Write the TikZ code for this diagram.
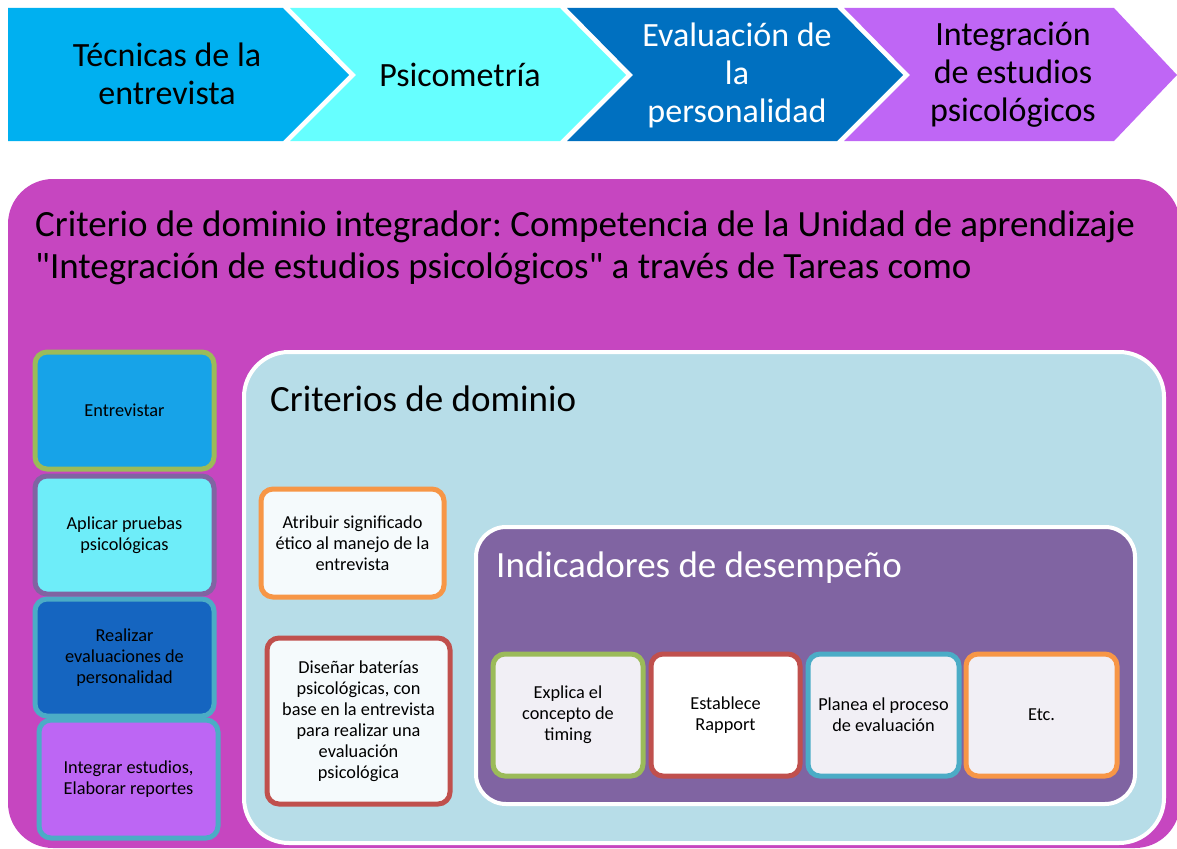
\documentclass[tikz,border=0pt]{standalone}
\usepackage{fontspec}
\setmainfont{Carlito}
\frenchspacing
\font\plainquote="Carlito" at 37pt
\newcommand{\sq}{{\plainquote\char34}}
\definecolor{chevA}{HTML}{00B0F0}
\definecolor{chevB}{HTML}{66FFFF}
\definecolor{chevC}{HTML}{0070C0}
\definecolor{chevD}{HTML}{BF66F5}
\definecolor{magbg}{HTML}{C646C0}
\definecolor{lblue}{HTML}{B7DDE8}
\definecolor{purp}{HTML}{8064A2}
\definecolor{bxgreen}{HTML}{9BBB59}
\definecolor{bxred}{HTML}{C0504D}
\definecolor{bxteal}{HTML}{4BACC6}
\definecolor{bxorange}{HTML}{F79646}
\definecolor{fillA}{HTML}{17A3E8}
\definecolor{fillB}{HTML}{6EEDF9}
\definecolor{fillC}{HTML}{1565C0}
\definecolor{fillD}{HTML}{BD66F4}
\definecolor{paleA}{HTML}{F5FAFC}
\definecolor{paleB}{HTML}{F1EFF5}
\begin{document}
\begin{tikzpicture}[x=1pt,y=-1pt,
  chevtext/.style={align=center,inner sep=0pt,font=\fontsize{34}{38}\selectfont},
  bigtitle/.style={anchor=west,align=left,inner sep=0pt,font=\fontsize{37}{42}\selectfont},
  smallbox/.style={rectangle,rounded corners=12pt,line width=5pt,align=center,inner sep=2pt,
     font=\fontsize{18.3}{21}\selectfont,text=black},
  panel/.style={draw=white,line width=4pt}
]
\useasboundingbox (0,0) rectangle (1177,848);
% chevrons
\fill[chevA] (8,8) -- (283,8) -- (349,75) -- (283,141) -- (8,141) -- cycle;
\fill[chevB] (290,8) -- (560,8) -- (626,75) -- (560,141) -- (290,141) -- (356,75) -- cycle;
\fill[chevC] (567,8) -- (837,8) -- (903,75) -- (837,141) -- (567,141) -- (633,75) -- cycle;
\fill[chevD] (844,8) -- (1114,8) -- (1177,75) -- (1114,141) -- (844,141) -- (910,75) -- cycle;
\node[chevtext] (c1) at (167,74) {Técnicas de la\\entrevista};
\node[chevtext] (c2) at (460,75) {Psicometría};
\node[chevtext,text=white] (c3) at (737,75) {Evaluación de\\la\\personalidad};
\node[chevtext] (c4) at (1013,75) {Integración\\de estudios\\psicológicos};
% big magenta panel
\fill[magbg,rounded corners=45pt] (8,179) rectangle (1180,848);
\node[bigtitle] (maintitle) at (35,248) {Criterio de dominio integrador: Competencia de la Unidad de aprendizaje\\\sq Integración de estudios psicológicos\sq{} a través de Tareas como};
% left column
\node[smallbox,draw=bxgreen,fill=fillA,minimum width=179pt,minimum height=117pt] (entre) at (124.5,410.5) {Entrevistar};
\node[smallbox,draw=purp,fill=fillB,minimum width=179pt,minimum height=118pt] (aplic) at (124.5,535) {Aplicar pruebas\\psicológicas};
\node[smallbox,draw=bxteal,fill=fillC,minimum width=179pt,minimum height=117pt] (reali) at (124.5,657.5) {Realizar\\evaluaciones de\\personalidad};
\node[smallbox,draw=bxteal,fill=fillD,minimum width=179pt,minimum height=118pt] (integ) at (128.5,779) {Integrar estudios,\\Elaborar reportes};
% criterios panel
\draw[panel,fill=lblue,rounded corners=45pt] (244,352) rectangle (1164,843);
\node[bigtitle] (crit) at (270,399) {Criterios de dominio};
\node[smallbox,draw=bxorange,fill=paleA,minimum width=183pt,minimum height=108pt] (atrib) at (352.5,543) {Atribuir significado\\ético al manejo de la\\entrevista};
\node[smallbox,draw=bxred,fill=paleA,minimum width=183pt,minimum height=166pt] (disen) at (358.5,721) {Diseñar baterías\\psicológicas, con\\base en la entrevista\\para realizar una\\evaluación\\psicológica};
% indicadores panel
\draw[panel,fill=purp,rounded corners=30pt] (476,527) rectangle (1135,804);
\node[bigtitle,text=white] (indic) at (496,568) {Indicadores de desempeño};
\node[smallbox,draw=bxgreen,fill=paleB,minimum width=150pt,minimum height=122pt] (expl) at (568,715) {Explica el\\concepto de\\timing};
\node[smallbox,draw=bxred,fill=white,minimum width=149pt,minimum height=122pt] (estab) at (725.5,715) {Establece\\Rapport};
\node[smallbox,draw=bxteal,fill=paleB,minimum width=151pt,minimum height=122pt] (plan) at (883.5,715) {Planea el proceso\\de evaluación};
\node[smallbox,draw=bxorange,fill=paleB,minimum width=151pt,minimum height=122pt] (etc) at (1041.5,715) {Etc.};
\end{tikzpicture}
\end{document}
